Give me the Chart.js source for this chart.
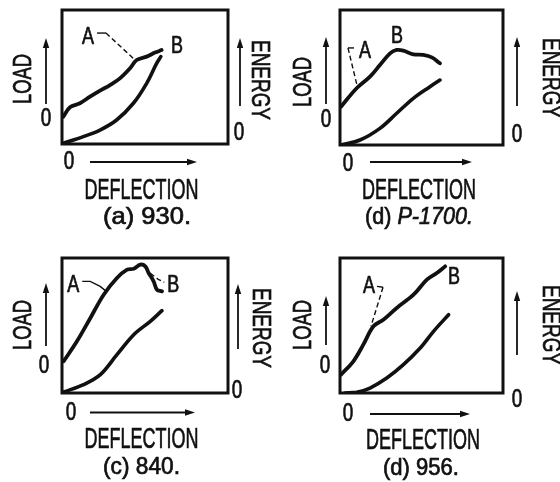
<!DOCTYPE html>
<html>
<head>
<meta charset="utf-8">
<script src="https://cdn.jsdelivr.net/npm/chart.js@4"></script>
<style>
  html, body { margin: 0; padding: 0; background: #fff; }
  #wrap { position: relative; width: 560px; height: 482px; overflow: hidden; }
  .cell { position: absolute; width: 280px; height: 241px; }
</style>
</head>
<body>
<div id="wrap">
  <div class="cell" style="left:0;top:0"><canvas id="c930" width="280" height="241"></canvas></div>
  <div class="cell" style="left:280px;top:0"><canvas id="c1700" width="280" height="241"></canvas></div>
  <div class="cell" style="left:0;top:241px"><canvas id="c840" width="280" height="241"></canvas></div>
  <div class="cell" style="left:280px;top:241px"><canvas id="c956" width="280" height="241"></canvas></div>
</div>
<script>
// curves, [deflection, value] in % of the frame
const load930 = [[0.8,20.4],[4.8,27.4],[10.8,30.4],[16.9,35.3],[22.9,39.8],[28.9,44],[34.9,49],[41,56.5],[45,62.7],[51,65.2],[56,68.2],[60,70.1]];
const energy930 = [[0.8,0.5],[12.8,5.5],[22.9,10.4],[32.9,17.9],[43,30.4],[51,45.3],[57,60.2],[59.5,65.2]];
const load1700 = [[0.6,28.4],[10.2,42],[18.4,50.6],[24.5,59.3],[30.7,67.9],[34.8,70.4],[38.8,69.9],[45,67.2],[51.1,66.7],[56.3,64.9],[61.3,60.5]];
const energy1700 = [[0.6,0],[12.3,3.7],[24.5,12.3],[34.8,23.5],[45,34.6],[55.2,43.2],[61.3,48.1]];
const load840 = [[1,23.5],[9,38.3],[17.1,55.6],[25.1,72.8],[33.1,85.2],[39.2,91.4],[43.2,92.1],[47.2,95.1],[50.2,93.8],[52.2,88.9],[55.2,82.7],[57.2,76.5],[60.2,75.3]];
const energy840 = [[1,0.7],[13,6.2],[23.1,13.6],[33.1,28.4],[43.2,43.2],[53.2,53.1],[60.2,61]];
const load956 = [[0.6,13.6],[8.2,23.5],[14.3,35.8],[20.5,49.4],[26.6,54.3],[34.8,63],[45.1,72.8],[53.3,84],[59.4,88.9],[64.5,93.8]];
const energy956 = [[3,0],[10.2,0.5],[18.4,3.7],[28.7,11.1],[38.9,21],[49.2,33.3],[57.4,45.7],[66.6,58]];

const captions = ['(a) 930.', '(d) P-1700.', '(c) 840.', '(d) 956.'];
const axisNames = { load: 'LOAD', energy: 'ENERGY', defl: 'DEFLECTION' };

const INK = '#111';
const FONT = '"Liberation Sans Narrow", "Liberation Sans", "DejaVu Sans Condensed", sans-serif';

function setFont(ctx, cap, italic) {
    ctx.font = (italic ? 'italic ' : '') + (cap / 0.72).toFixed(1) + 'px ' + FONT;
}

function ink(ctx, s, x, y) {
    ctx.fillStyle = INK; ctx.strokeStyle = INK; ctx.lineWidth = 0.7;
    ctx.fillText(s, x, y);
    ctx.strokeText(s, x, y);
}

// text centred at (x,y) on cap height, squeezed to width w
function txt(ctx, s, x, y, cap, w, rot) {
    ctx.save();
    ctx.translate(x, y);
    ctx.rotate(rot || 0);
    setFont(ctx, cap, false);
    const m = ctx.measureText(s).width;
    ctx.scale(w / m, 1);
    ctx.textAlign = 'center';
    ctx.textBaseline = 'alphabetic';
    ink(ctx, s, 0, cap / 2);
    ctx.restore();
}

// caption: "(x)" upright, the rest optionally slanted
function caption(ctx, s, x, y, cap, w, slant) {
    const k = s.indexOf(' ');
    const a = s.slice(0, k + 1), b = s.slice(k + 1);
    ctx.save();
    setFont(ctx, cap, false);
    const wa = ctx.measureText(a).width;
    setFont(ctx, cap, slant);
    const wb = ctx.measureText(b).width;
    const sc = w / (wa + wb);
    ctx.translate(x - w / 2, y + cap / 2);
    ctx.scale(sc, 1);
    ctx.textAlign = 'left';
    ctx.textBaseline = 'alphabetic';
    setFont(ctx, cap, false);
    ink(ctx, a, 0, 0);
    setFont(ctx, cap, slant);
    ink(ctx, b, wa, 0);
    ctx.restore();
}

function arrow(ctx, x1, y1, x2, y2) {
    const a = Math.atan2(y2 - y1, x2 - x1);
    ctx.save();
    ctx.strokeStyle = INK; ctx.fillStyle = INK; ctx.lineWidth = 1.8;
    ctx.beginPath(); ctx.moveTo(x1, y1); ctx.lineTo(x2 - 7 * Math.cos(a), y2 - 7 * Math.sin(a)); ctx.stroke();
    ctx.translate(x2, y2); ctx.rotate(a);
    ctx.beginPath(); ctx.moveTo(0, 0); ctx.lineTo(-10, -3.2); ctx.lineTo(-10, 3.2); ctx.closePath(); ctx.fill();
    ctx.restore();
}

function leader(ctx, chart, pts, dash) {
    const xs = chart.scales.x, ys = chart.scales.y;
    ctx.save();
    ctx.strokeStyle = INK; ctx.lineWidth = 1.4;
    ctx.setLineDash(dash || []);
    ctx.beginPath();
    pts.forEach((p, i) => {
        const px = xs.getPixelForValue(p[0]), py = ys.getPixelForValue(p[1]);
        i ? ctx.lineTo(px, py) : ctx.moveTo(px, py);
    });
    ctx.stroke();
    ctx.restore();
}

function mark(ctx, chart, s, p) {
    txt(ctx, s, chart.scales.x.getPixelForValue(p[0]), chart.scales.y.getPixelForValue(p[1]), 17, 12);
}

const panels = [
    { id: 'c930', load: load930, energy: energy930, cap: 0, slant: false, capW: 88,
      pad: { left: 62, top: 10, right: 52, bottom: 97 },
      L: { loadLbl: [22, 79], loadArr: [46, 104, 38], load0: [46, 117], enLbl: [261, 80], enArr: [240, 106, 38], en0: [239, 131],
           d0: [69, 160], dArr: [162, 90, 197], dLbl: [141.5, 188], capPos: [147, 215] },
      notes: { A: [15.7, 80.6], B: [69.3, 74], lead: [[[21.1, 82.8], [26.5, 82.8]], [[26.5, 82.8], [44, 62.7]]], dashIdx: [1] } },
    { id: 'c1700', load: load1700, energy: energy1700, cap: 1, slant: true, capW: 108,
      pad: { left: 60, top: 10, right: 57, bottom: 96 },
      L: { loadLbl: [22, 82], loadArr: [46, 104, 37], load0: [46, 118], enLbl: [272, 78], enArr: [237, 106, 37], en0: [237, 133],
           d0: [68, 162], dArr: [162, 90, 192], dLbl: [139, 188], capPos: [139, 215] },
      notes: { A: [15.3, 70.4], B: [35, 81.5], lead: [[[4.9, 71.9], [8.6, 71.9]], [[4.9, 71.9], [10.4, 44.4]]], dashIdx: [1] } },
    { id: 'c840', load: load840, energy: energy840, cap: 2, slant: false, capW: 77,
      pad: { left: 62, top: 17, right: 52, bottom: 89 },
      L: { loadLbl: [22, 84], loadArr: [46, 105, 42], load0: [44, 123], enLbl: [262, 87], enArr: [238, 108, 43], en0: [237, 148],
           d0: [71, 169.5], dArr: [171.5, 90, 195], dLbl: [141.5, 196], capPos: [141.5, 224] },
      notes: { A: [6.8, 81.3], B: [67, 81.3], lead: [[[12.2, 82.7], [17, 82.7], [23, 79], [26.7, 75.3]], [[53.2, 88.7], [58, 84.2], [61.6, 82]]], dashIdx: [1] } },
    { id: 'c956', load: load956, energy: energy956, cap: 3, slant: false, capW: 76,
      pad: { left: 60, top: 17, right: 57, bottom: 89 },
      L: { loadLbl: [22, 84], loadArr: [46, 104, 55], load0: [45, 123], enLbl: [272, 84], enArr: [237, 114, 50], en0: [237, 157],
           d0: [68, 171], dArr: [173, 90, 190], dLbl: [143, 197], capPos: [141, 225] },
      notes: { A: [17.8, 80.5], B: [70, 87.2], lead: [[[22.7, 79], [26.4, 78.3]], [[26.4, 78.3], [19, 49.4]]], dashIdx: [1] } }
];

const frame = {
    id: 'frame',
    afterDatasetsDraw(chart, args, o) {
        const { ctx, chartArea: ca } = chart;
        const p = o.panel, L = p.L;
        ctx.save();
        ctx.strokeStyle = INK; ctx.lineWidth = 3;
        ctx.strokeRect(ca.left, ca.top, ca.right - ca.left, ca.bottom - ca.top);
        ctx.restore();
        txt(ctx, axisNames.load, L.loadLbl[0], L.loadLbl[1], 18, 50, -Math.PI / 2);
        arrow(ctx, L.loadArr[0], L.loadArr[1], L.loadArr[0], L.loadArr[2]);
        txt(ctx, '0', L.load0[0], L.load0[1], 18, 10.5);
        txt(ctx, axisNames.energy, L.enLbl[0], L.enLbl[1], 19, 80, Math.PI / 2);
        arrow(ctx, L.enArr[0], L.enArr[1], L.enArr[0], L.enArr[2]);
        txt(ctx, '0', L.en0[0], L.en0[1], 18, 10.5);
        txt(ctx, '0', L.d0[0], L.d0[1], 18, 10.5);
        arrow(ctx, L.dArr[1], L.dArr[0], L.dArr[2], L.dArr[0]);
        txt(ctx, axisNames.defl, L.dLbl[0], L.dLbl[1], 21, 114);
        caption(ctx, captions[p.cap], L.capPos[0], L.capPos[1], 17, p.capW, p.slant);
        const n = p.notes;
        n.lead.forEach((seg, i) => leader(ctx, chart, seg, n.dashIdx.includes(i) ? [5, 3] : []));
        mark(ctx, chart, 'A', n.A);
        mark(ctx, chart, 'B', n.B);
    }
};

const toXY = arr => arr.map(d => ({ x: d[0], y: d[1] }));

panels.forEach(p => {
    new Chart(document.getElementById(p.id), {
        type: 'scatter',
        data: {
            datasets: [
                { label: 'Load', data: toXY(p.load), showLine: true, borderColor: INK, borderWidth: 3.8, pointRadius: 0, tension: 0.35, borderCapStyle: 'round' },
                { label: 'Energy', data: toXY(p.energy), showLine: true, borderColor: INK, borderWidth: 3.6, pointRadius: 0, tension: 0.35, borderCapStyle: 'round' }
            ]
        },
        options: {
            responsive: false,
            animation: false,
            events: [],
            layout: { padding: p.pad },
            plugins: { legend: { display: false }, tooltip: { enabled: false }, frame: { panel: p } },
            scales: {
                x: { type: 'linear', min: 0, max: 100, display: false },
                y: { type: 'linear', min: 0, max: 100, display: false }
            }
        },
        plugins: [frame]
    });
});
</script>
</body>
</html>
